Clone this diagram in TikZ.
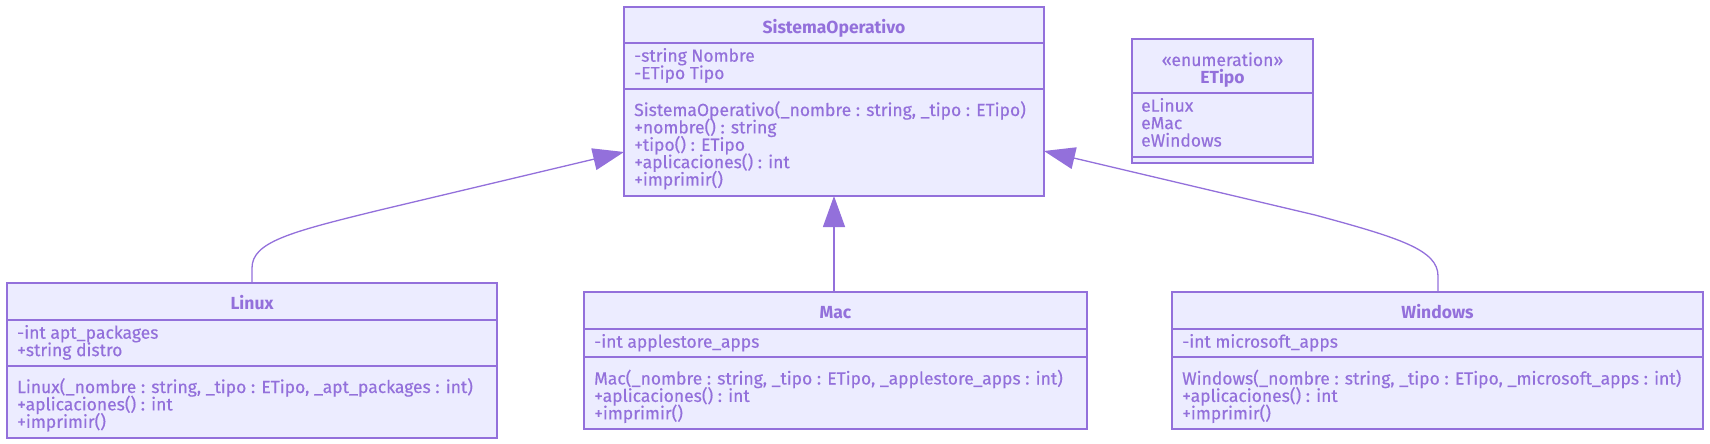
\documentclass[tikz,border=0pt]{standalone}
\usepackage{fontspec}
\setmainfont{Fira Sans}[UprightFeatures={FakeBold=0.4}]
\usetikzlibrary{arrows.meta}
\definecolor{umlfill}{HTML}{ECECFF}
\definecolor{umlline}{HTML}{9370DB}
\tikzset{
  cls/.style={draw=umlline, fill=umlfill, line width=1.5pt, inner sep=0pt, outer sep=0pt},
  divline/.style={draw=umlline, line width=1.4pt},
  txt/.style={anchor=base west, inner sep=0pt, text=umlline, font=\fontsize{17.5}{19}\selectfont},
  ttl/.style={anchor=base, inner sep=0pt, text=umlline, font=\fontsize{17.5}{19}\selectfont\bfseries},
  stereo/.style={anchor=base, inner sep=0pt, text=umlline, font=\fontsize{17.5}{19}\selectfont},
  inherit/.style={draw=umlline, line width=1.3pt, -{Triangle[length=31pt,width=22pt,fill=umlline]}}
}
\begin{document}
\begin{tikzpicture}[x=1pt,y=-1pt]
\useasboundingbox (0,0) rectangle (1710,444);
% SistemaOperativo
\node[cls, minimum width=420pt, minimum height=189pt] (so) at (834,101.5) {};
\draw[divline] (so.west |- 0,43) -- (so.east |- 0,43);
\draw[divline] (so.west |- 0,89) -- (so.east |- 0,89);
\node[ttl] (sot) at (834,33.3) {SistemaOperativo};
\node[txt] (soa1) at (634,61.7) {-string Nombre};
\node[txt] (soa2) at (634,79.1) {-ETipo Tipo};
\node[txt] (som1) at (634,116) {SistemaOperativo(\_nombre : string, \_tipo : ETipo)};
\node[txt] (som2) at (634,133.4) {+nombre() : string};
\node[txt] (som3) at (634,150.8) {+tipo() : ETipo};
\node[txt] (som4) at (634,168.2) {+aplicaciones() : int};
\node[txt] (som5) at (634,185.6) {+imprimir()};
% ETipo
\node[cls, minimum width=181pt, minimum height=124pt] (et) at (1222.5,101) {};
\draw[divline] (et.west |- 0,93) -- (et.east |- 0,93);
\draw[divline] (et.west |- 0,157) -- (et.east |- 0,157);
\node[stereo] (ets) at (1222.5,66) {«enumeration»};
\node[ttl] (ett) at (1222.5,83) {ETipo};
\node[txt] (et1) at (1141,111.7) {eLinux};
\node[txt] (et2) at (1141,129.1) {eMac};
\node[txt] (et3) at (1141,146.5) {eWindows};
% Linux
\node[cls, minimum width=490pt, minimum height=155pt] (li) at (252,360.5) {};
\draw[divline] (li.west |- 0,320) -- (li.east |- 0,320);
\draw[divline] (li.west |- 0,366) -- (li.east |- 0,366);
\node[ttl] (lit) at (252,309.5) {Linux};
\node[txt] (lia1) at (17,338.7) {-int apt\_packages};
\node[txt] (lia2) at (17,356.1) {+string distro};
\node[txt] (lim1) at (17,393) {Linux(\_nombre : string, \_tipo : ETipo, \_apt\_packages : int)};
\node[txt] (lim2) at (17,410.4) {+aplicaciones() : int};
\node[txt] (lim3) at (17,427.8) {+imprimir()};
% Mac
\node[cls, minimum width=503pt, minimum height=137pt] (ma) at (835.5,360.5) {};
\draw[divline] (ma.west |- 0,329) -- (ma.east |- 0,329);
\draw[divline] (ma.west |- 0,357) -- (ma.east |- 0,357);
\node[ttl] (mat) at (835.5,318.5) {Mac};
\node[txt] (maa1) at (594,347.7) {-int applestore\_apps};
\node[txt] (mam1) at (594,384.5) {Mac(\_nombre : string, \_tipo : ETipo, \_applestore\_apps : int)};
\node[txt] (mam2) at (594,401.9) {+aplicaciones() : int};
\node[txt] (mam3) at (594,419.3) {+imprimir()};
% Windows
\node[cls, minimum width=531pt, minimum height=137pt] (wi) at (1437.5,360.5) {};
\draw[divline] (wi.west |- 0,329) -- (wi.east |- 0,329);
\draw[divline] (wi.west |- 0,357) -- (wi.east |- 0,357);
\node[ttl] (wit) at (1437.5,318.5) {Windows};
\node[txt] (wia1) at (1182,347.7) {-int microsoft\_apps};
\node[txt] (wim1) at (1182,384.5) {Windows(\_nombre : string, \_tipo : ETipo, \_microsoft\_apps : int)};
\node[txt] (wim2) at (1182,401.9) {+aplicaciones() : int};
\node[txt] (wim3) at (1182,419.3) {+imprimir()};
% connector end points
\coordinate (liTop) at (li.north west -| 252,0);
\coordinate (maTop) at (ma.north west -| 834,0);
\coordinate (wiTop) at (wi.north west -| 1438,0);
\coordinate (soL) at (so.south west |- 0,152);
\coordinate (soB) at (so.south west -| 834,0);
\coordinate (soR) at (so.south east |- 0,151);
% connectors
\draw[inherit] (liTop) -- (252,268) .. controls (252,242) and (290,232) .. (380,210) -- (soL);
\draw[inherit] (maTop) -- (soB);
\draw[inherit] (wiTop) -- (1438,276) .. controls (1438,250) and (1400,238) .. (1315,215) -- (soR);
\end{tikzpicture}
\end{document}
